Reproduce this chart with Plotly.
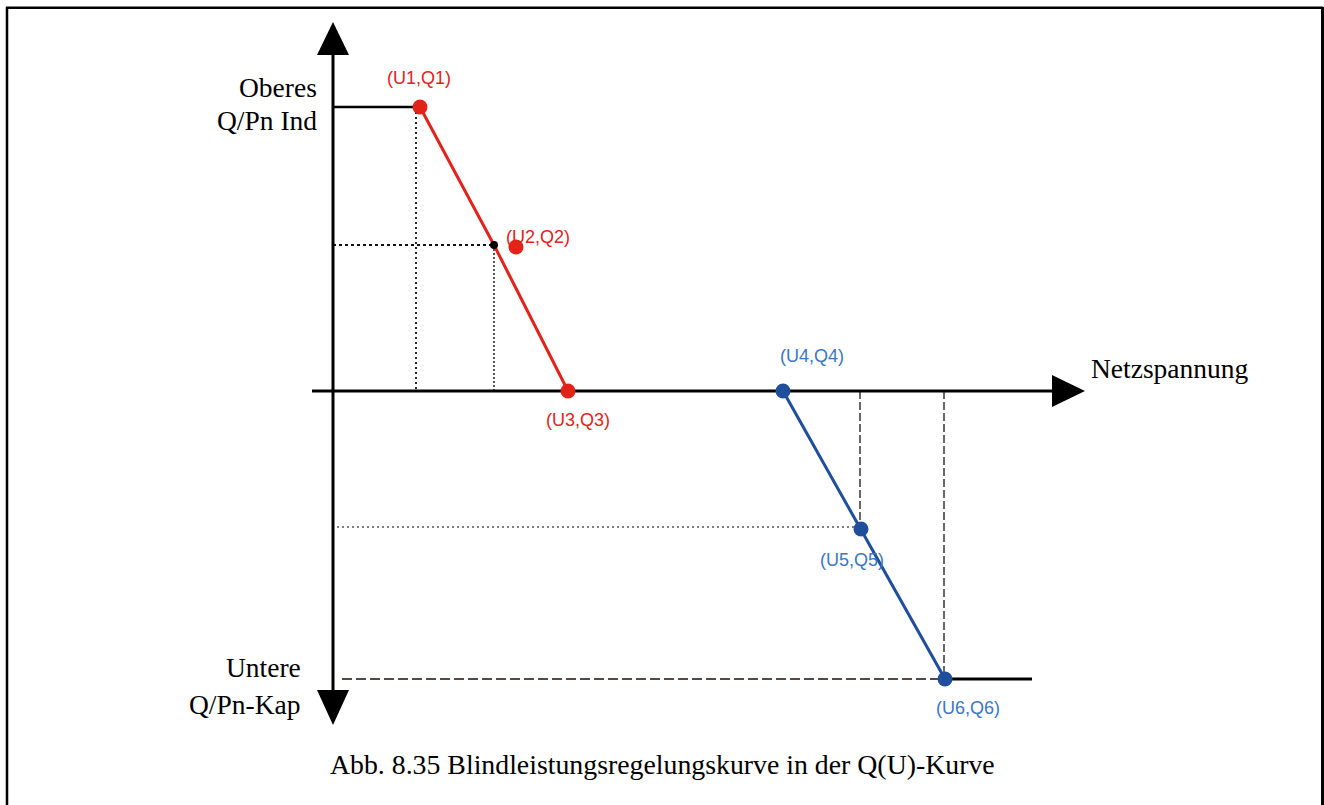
import plotly.graph_objects as go

W, H = 1324, 805

# Q(U) characteristic, U measured from the Q axis, Q from the U axis (drawing units)
u_pts = [87, 161, 235, 450, 528, 612]
q_pts = [284, 146, 0, 0, -138, -288]
pt_labels = ["(U1,Q1)", "(U2,Q2)", "(U3,Q3)", "(U4,Q4)", "(U5,Q5)", "(U6,Q6)"]

# red dot of U2 is drawn a bit beside the curve in the original
u2_dot = [183]
q2_dot = [144]

# guide line positions
guide_u1 = 83
u_tail = 699          # end of the flat part after U6
q_axis_top, q_axis_bottom = 336, -299
u_axis_left, u_axis_right = -21, 719

RED = "#e2231a"
BLUE = "#1f4e9c"
BLUE_TXT = "#3a76c4"
GUIDE = "#3b3333"

# pixel origin of the drawing (where the axes cross)
X0, Y0 = 333, 391

fig = go.Figure()


def seg(x, y, color, width, dash="solid"):
    fig.add_trace(go.Scatter(x=x, y=y, mode="lines",
                             line=dict(color=color, width=width, dash=dash),
                             hoverinfo="skip", showlegend=False))


# dotted / dashed helper lines
seg([guide_u1, guide_u1], [q_pts[0], 0], "#111", 1.8, "2px,3px")
seg([0, u_pts[1]], [q_pts[1], q_pts[1]], "#111", 1.8, "3px,3px")
seg([u_pts[1], u_pts[1]], [q_pts[1], 0], "#444", 1.8, "2px,2px")
seg([4, u_pts[4]], [q_pts[4] + 2, q_pts[4] + 2], "#555", 1.6, "2px,3px")
seg([u_pts[4] - 1, u_pts[4] - 1], [0, q_pts[4]], GUIDE, 1.5, "8px,3px")
seg([u_pts[5] - 1, u_pts[5] - 1], [0, q_pts[5]], GUIDE, 1.5, "8px,3px")
seg([9, u_pts[5]], [q_pts[5], q_pts[5]], "#554a4a", 1.8, "10px,4px")

# axes
seg([0, 0], [q_axis_bottom, q_axis_top], "black", 3)
seg([u_axis_left, u_axis_right], [0, 0], "black", 3)

# flat limits
seg([0, u_pts[0]], [q_pts[0], q_pts[0]], "black", 2.5)
seg([u_pts[5], u_tail], [q_pts[5], q_pts[5]], "black", 3)

# curves
seg(u_pts[:3], q_pts[:3], RED, 3)
seg(u_pts[3:], q_pts[3:], BLUE, 3)

fig.add_trace(go.Scatter(x=[u_pts[0], u_pts[2]] + u2_dot, y=[q_pts[0], q_pts[2]] + q2_dot,
                         mode="markers", marker=dict(color=RED, size=15),
                         hoverinfo="skip", showlegend=False))
fig.add_trace(go.Scatter(x=[u_pts[1]], y=[q_pts[1]], mode="markers",
                         marker=dict(color="black", size=8),
                         hoverinfo="skip", showlegend=False))
fig.add_trace(go.Scatter(x=u_pts[3:], y=q_pts[3:], mode="markers",
                         marker=dict(color=BLUE, size=15),
                         hoverinfo="skip", showlegend=False))

# arrow heads
shapes = [
    dict(type="path", path=f"M -16,{q_axis_top} L 16,{q_axis_top} L 0,{q_axis_top + 33} Z",
         fillcolor="black", line=dict(width=0), xref="x", yref="y"),
    dict(type="path", path=f"M -16,{q_axis_bottom} L 16,{q_axis_bottom} L 0,{q_axis_bottom - 35} Z",
         fillcolor="black", line=dict(width=0), xref="x", yref="y"),
    dict(type="path", path=f"M {u_axis_right},-16 L {u_axis_right},16 L {u_axis_right + 33},0 Z",
         fillcolor="black", line=dict(width=0), xref="x", yref="y"),
    # frame
    dict(type="line", xref="paper", yref="paper", x0=7 / W, x1=7 / W, y0=0, y1=1 - 7 / H,
         line=dict(color="black", width=2.5)),
    dict(type="line", xref="paper", yref="paper", x0=6 / W, x1=1323 / W, y0=1 - 7.8 / H, y1=1 - 7.8 / H,
         line=dict(color="black", width=2.5)),
    dict(type="line", xref="paper", yref="paper", x0=1322.5 / W, x1=1322.5 / W, y0=0, y1=1 - 7 / H,
         line=dict(color="black", width=3)),
]

SERIF = "Liberation Serif, Times New Roman, serif"
SANS = "Liberation Sans, Arial, sans-serif"


def txt(x, y, s, size, color="black", family=SERIF, xanchor="center"):
    # x, y in pixels of the picture
    return dict(x=x / W, y=1 - y / H, xref="paper", yref="paper", text=s, showarrow=False,
                xanchor=xanchor, yanchor="middle", font=dict(family=family, size=size, color=color))


annotations = [
    txt(319, 87, "Oberes", 27.5, xanchor="right"),
    txt(319, 121, "Q/Pn Ind", 27.5, xanchor="right"),
    txt(303, 667, "Untere", 27.5, xanchor="right"),
    txt(303, 704, "Q/Pn-Kap", 27.5, xanchor="right"),
    txt(1089, 369, "Netzspannung", 27.5, xanchor="left"),
    txt(662, 764, "Abb. 8.35 Blindleistungsregelungskurve in der Q(U)-Kurve", 27.8),
]
label_pos = [(419, 78), (538, 237), (578, 420), (812, 356), (852, 560), (968, 708)]
for i, (lx, ly) in enumerate(label_pos):
    annotations.append(txt(lx, ly, pt_labels[i], 18, RED if i < 3 else BLUE_TXT, SANS))

fig.update_layout(
    width=W, height=H, margin=dict(l=0, r=0, t=0, b=0),
    paper_bgcolor="white", plot_bgcolor="white",
    xaxis=dict(range=[-X0, W - X0], visible=False, fixedrange=True),
    yaxis=dict(range=[Y0 - H, Y0], visible=False, fixedrange=True),
    shapes=shapes, annotations=annotations, showlegend=False,
)

fig.write_html("out.html", config={"displayModeBar": False},
               post_script="document.body.style.margin='0';document.body.style.overflow='hidden';")
